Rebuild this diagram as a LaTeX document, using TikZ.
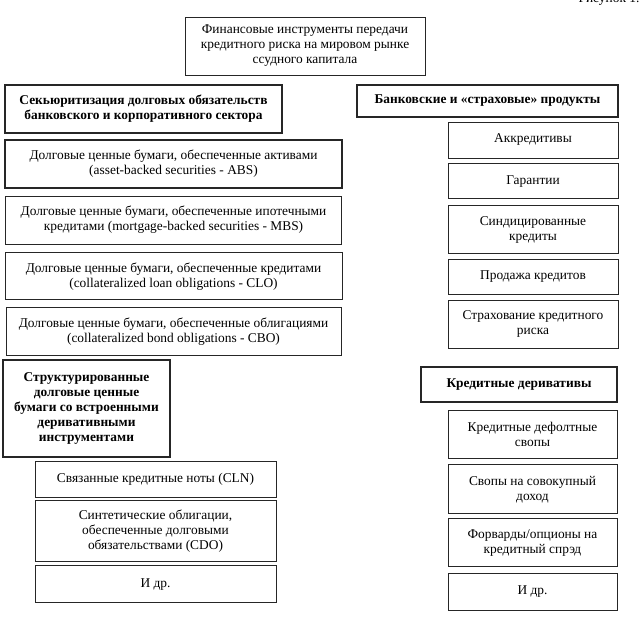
\documentclass[tikz,border=0pt]{standalone}
\usepackage{fontspec}
\setmainfont{Liberation Serif}
\usetikzlibrary{positioning}

\begin{document}
\begin{tikzpicture}[
        x=1pt, y=-1pt,
        font=\fontsize{13.4}{15}\selectfont,
        box/.style={rectangle, draw=black!85, line width=0.8pt,
                    inner sep=0pt, align=center},
        headbox/.style={box, line width=1.1pt, font=\fontsize{13.4}{15}\selectfont\bfseries},
    ]
        \useasboundingbox (0,0) rectangle (641,617);

        \node[anchor=base east] (fig) at (643,3) {Рисунок 1.};

        % root
        \node[box, minimum width=240pt, minimum height=58pt] (root) at (305,46)
            {Финансовые инструменты передачи\\кредитного риска на мировом рынке\\ссудного капитала};

        % left column: securitisation
        \node[headbox, minimum width=277pt, minimum height=48pt] (secur) at (143.5,109)
            {Секьюритизация долговых обязательств\\банковского и корпоративного сектора};
        \node[box, line width=1.2pt, minimum width=337pt, minimum height=48pt] (abs) at (173.5,164)
            {Долговые ценные бумаги, обеспеченные активами\\(asset-backed securities - ABS)};
        \node[box, minimum width=336pt, minimum height=48pt, below=7pt of abs] (mbs)
            {Долговые ценные бумаги, обеспеченные ипотечными\\кредитами (mortgage-backed securities - MBS)};
        \node[box, minimum width=337pt, minimum height=47pt, below=8pt of mbs] (clo)
            {Долговые ценные бумаги, обеспеченные кредитами\\(collateralized loan obligations - CLO)};
        \node[box, line width=1pt, minimum width=335pt, minimum height=48pt, below=7pt of clo] (cbo)
            {Долговые ценные бумаги, обеспеченные облигациями\\(collateralized bond obligations - CBO)};

        % left column: structured notes
        \node[headbox, line width=1.3pt, minimum width=167pt, minimum height=97pt] (struct) at (86.5,408.5)
            {Структурированные\\долговые ценные\\бумаги со встроенными\\деривативными\\инструментами};
        \node[box, minimum width=241pt, minimum height=36pt] (cln) at (155.5,479)
            {Связанные кредитные ноты (CLN)};
        \node[box, minimum width=241pt, minimum height=61pt, below=3pt of cln] (cdo)
            {Синтетические облигации,\\обеспеченные долговыми\\обязательствами (CDO)};
        \node[box, minimum width=241pt, minimum height=37pt, below=3pt of cdo] (etcl)
            {И др.};

        % right column: bank products
        \node[headbox, minimum width=261pt, minimum height=32pt] (bank) at (487.5,101)
            {Банковские и «страховые» продукты};
        \node[box, minimum width=170pt, minimum height=36pt] (akk) at (533,140)
            {Аккредитивы};
        \node[box, minimum width=170pt, minimum height=35pt, below=5pt of akk] (guar)
            {Гарантии};
        \node[box, minimum width=170pt, minimum height=48pt, below=6pt of guar] (synd)
            {Синдицированные\\кредиты};
        \node[box, minimum width=170pt, minimum height=35pt, below=5pt of synd] (sale)
            {Продажа кредитов};
        \node[box, minimum width=170pt, minimum height=48pt, below=5pt of sale] (insur)
            {Страхование кредитного\\риска};

        % right column: credit derivatives
        \node[headbox, minimum width=196pt, minimum height=35pt] (deriv) at (519,384.5)
            {Кредитные деривативы};
        \node[box, minimum width=169pt, minimum height=48pt] (cds) at (532.5,434)
            {Кредитные дефолтные\\свопы};
        \node[box, minimum width=169pt, minimum height=49pt, below=6pt of cds] (trs)
            {Свопы на совокупный\\доход};
        \node[box, minimum width=169pt, minimum height=48pt, below=4pt of trs] (fwd)
            {Форварды/опционы на\\кредитный спрэд};
        \node[box, minimum width=169pt, minimum height=37pt, below=6pt of fwd] (etcr)
            {И др.};

    \end{tikzpicture}
\end{document}
